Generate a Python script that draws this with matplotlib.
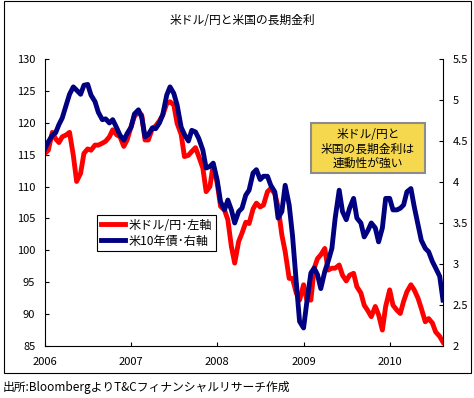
import numpy as np
import pandas as pd
import matplotlib
matplotlib.use('Agg')
import matplotlib.pyplot as plt
import matplotlib.dates as mdates
from matplotlib.patches import Rectangle
from matplotlib.lines import Line2D

plt.rcParams['font.family'] = ['Noto Sans CJK JP', 'DejaVu Sans']

# semi-monthly sampling, Jan 2006 - mid Aug 2010
dates = pd.date_range('2006-01-01', '2010-08-15', freq='SMS')

# USD/JPY (left axis)
usdjpy = [
    115.2, 115.7, 118.5, 117.5, 116.9, 117.8, 118.1, 118.5, 114.9, 110.8,
    112.1, 115.2, 115.9, 115.7, 116.5, 116.5, 116.8, 117.1, 117.8, 118.9,
    118.1, 117.8, 116.3, 117.3, 119.4, 121.0, 121.7, 121.2, 117.3, 117.3,
    119.1, 119.5, 120.3, 121.2, 123.0, 123.3, 122.8, 119.9, 118.2, 114.7,
    114.9, 115.5, 116.1, 114.7, 112.9, 109.2, 110.0, 113.4, 110.5, 106.9,
    106.3, 104.8, 100.6, 98.0, 101.4, 102.7, 104.4, 104.2, 106.5, 107.4,
    106.8, 107.1, 109.2, 109.7, 108.9, 106.8, 102.4, 99.8, 95.6, 95.6,
    93.3, 92.2, 94.6, 92.2, 92.2, 97.2, 98.7, 99.3, 100.3, 96.9,
    97.2, 97.2, 97.7, 96.1, 95.2, 96.1, 96.4, 94.3, 93.3, 91.4,
    90.5, 89.6, 91.2, 89.9, 87.5, 91.2, 93.8, 91.4, 90.6, 90.1,
    92.0, 93.5, 94.6, 93.8, 92.5, 90.9, 88.8, 89.3, 88.6, 87.2,
    86.5, 85.6,
]

# US 10y treasury yield, % (right axis)
us10y = [
    4.41, 4.49, 4.57, 4.60, 4.70, 4.78, 4.94, 5.07, 5.16, 5.12,
    5.07, 5.18, 5.19, 5.06, 4.98, 4.85, 4.76, 4.77, 4.72, 4.76,
    4.66, 4.57, 4.51, 4.59, 4.67, 4.83, 4.88, 4.79, 4.55, 4.58,
    4.66, 4.65, 4.72, 4.82, 5.06, 5.16, 5.08, 4.94, 4.67, 4.58,
    4.50, 4.63, 4.61, 4.53, 4.39, 4.17, 4.19, 4.23, 4.02, 3.76,
    3.66, 3.78, 3.66, 3.50, 3.64, 3.68, 3.84, 3.90, 4.11, 4.15,
    4.03, 4.07, 4.07, 3.96, 3.88, 3.56, 3.64, 3.96, 3.72, 3.35,
    2.78, 2.30, 2.22, 2.54, 2.89, 2.95, 2.87, 2.70, 2.91, 3.03,
    3.19, 3.56, 3.90, 3.64, 3.54, 3.68, 3.80, 3.56, 3.50, 3.33,
    3.41, 3.50, 3.44, 3.27, 3.44, 3.80, 3.80, 3.66, 3.66, 3.68,
    3.72, 3.88, 3.92, 3.70, 3.48, 3.29, 3.19, 3.15, 3.03, 2.95,
    2.85, 2.56,
]

title = '米ドル/円と米国の長期金利'
label_jpy = '米ドル/円･左軸'
label_10y = '米10年債･右軸'
note = '米ドル/円と\n米国の長期金利は\n連動性が強い'
source = '出所:BloombergよりT&Cフィナンシャルリサーチ作成'

W, H = 474, 398
fig = plt.figure(figsize=(W / 100, H / 100), dpi=100)

ax = fig.add_axes([45 / W, 1 - 346 / H, 398 / W, 287 / H])
ax2 = ax.twinx()

ax.plot(dates, usdjpy, color='#ff0000', lw=3.5)
ax2.plot(dates, us10y, color='#000080', lw=3.5)

ax.set_ylim(85, 130)
ax.set_yticks(np.arange(85, 131, 5))
ax2.set_ylim(2, 5.5)
ax2.set_yticks(np.arange(2, 5.51, 0.5))
ax2.set_yticklabels(['2', '2.5', '3', '3.5', '4', '4.5', '5', '5.5'])
ax.set_xlim(dates[0], dates[-1])
ax.xaxis.set_major_locator(mdates.YearLocator())
ax.xaxis.set_major_formatter(mdates.DateFormatter('%Y'))

for a in (ax, ax2):
    a.spines['top'].set_visible(False)
    for s in a.spines.values():
        s.set_linewidth(0.8)
ax.spines['right'].set_visible(False)
ax2.spines['left'].set_visible(False)
ax2.spines['bottom'].set_visible(False)

ax.tick_params(axis='y', direction='in', length=3, width=0.8, labelsize=8, pad=7)
ax.tick_params(axis='x', direction='in', length=3, width=0.8, labelsize=8, pad=8)
ax2.tick_params(axis='y', direction='in', length=3, width=0.8, labelsize=8, pad=7)

handles = [Line2D([], [], color='#ff0000', lw=3.5),
           Line2D([], [], color='#000080', lw=3.5)]
leg = ax2.legend(handles, [label_jpy, label_10y], loc='upper left',
                 bbox_to_anchor=((97 - 45) / 398, (346 - 215) / 287),
                 borderaxespad=0, fontsize=8.7, handlelength=2.0,
                 handletextpad=0.3, labelspacing=0.25, borderpad=0.3,
                 fancybox=False, framealpha=1, edgecolor='black')
leg.get_frame().set_linewidth(0.8)

# outer frame
fig.add_artist(Rectangle((4 / W, 1 - 373 / H), 467 / W, 372 / H,
                         transform=fig.transFigure, fill=False,
                         edgecolor='black', lw=0.8))

fig.text(242 / W, 1 - 20 / H, title, ha='center', va='center', fontsize=8.5)

# note box
fig.add_artist(Rectangle((311 / W, 1 - 173 / H), 114 / W, 50 / H,
                         transform=fig.transFigure, facecolor='#f5d84e',
                         edgecolor='#8c8c8c', lw=1.5, zorder=5))
fig.text(368 / W, 1 - 149 / H, note, ha='center', va='center',
         fontsize=8.5, linespacing=1.1, zorder=6)

fig.text(3 / W, 1 - 387 / H, source, ha='left', va='center', fontsize=8.5)

fig.savefig('out.png', dpi=100)
